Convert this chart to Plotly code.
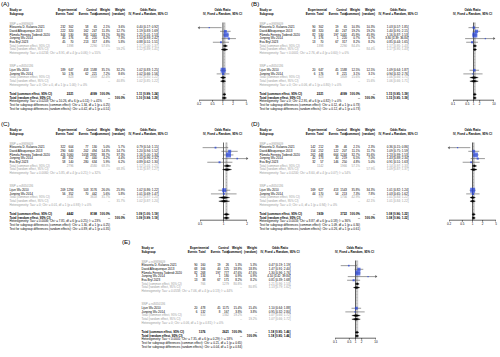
import math
import plotly.graph_objects as go

W, H = 500, 357
FONT = "Liberation Sans, Arial, Helvetica, sans-serif"
FS = 3.0
BLUE = "#1f3fe0"
GRAY_TXT = "#9a9a9a"

STUDIES_G1 = ["Elizaveta D. Kulaeva 2021", "David Albuquerque 2013",
              "Pâmela Ferreira Todendi 2020", "Junping Wu 2014", "Eva Bryl 2023"]
STUDIES_G2 = ["Lijun Wu 2010", "Junping Wu 2014"]
SNP_LABELS = ["SNP = rs9939609", "SNP = rs8050136"]

# ---------------- Panel A ----------------
A_ev_e = [232, 222, 344, 45, 45, 189, 50]
A_n_e = [302, 320, 530, 176, 70, 647, 176]
A_ev_c = [58, 162, 861, 41, 213, 458, 62]
A_n_c = [65, 247, 1441, 220, 317, 1588, 221]
A_w_com = [2.1, 11.3, 33.1, 6.2, 4.8, 35.1, 7.2]
A_w_ran = [3.6, 12.7, 30.9, 7.3, 5.8, 32.2, 8.6]
A_or = [0.40, 1.19, 1.25, 1.50, 0.88, 1.02, 1.02]
A_lo = [0.17, 0.83, 1.01, 0.93, 0.51, 0.83, 0.66]
A_hi = [0.92, 1.69, 1.53, 2.42, 1.51, 1.25, 1.56]
A_sub_n_e = [1398, 823]
A_sub_n_c = [2290, 1809]
A_sub_w_com = [57.6, 42.4]
A_sub_w_ran = [59.2, 40.8]
A_sub_com = [[1.17, 1.00, 1.37], [1.02, 0.85, 1.22]]
A_sub_ran = [[1.12, 0.89, 1.41], [1.02, 0.85, 1.22]]
A_sub_het = ["Heterogeneity: Tau² = 0.0234; Chi² = 8.91, df = 4 (p = 0.06); I² = 55%",
             "Heterogeneity: Tau² = 0; Chi² = 0, df = 1 (p = 1.00); I² = 0%"]
A_tot_n = [2221, 4099]
A_tot_com = [1.11, 0.99, 1.24]
A_tot_ran = [1.10, 0.94, 1.29]
A_het = "Heterogeneity: Tau² = 0.0203; Chi² = 10.26, df = 6 (p = 0.11); I² = 41%"
A_test = ["Test for subgroup differences (common effect): Chi² = 1.34, df = 1 (p = 0.25)",
          "Test for subgroup differences (random effects): Chi² = 0.42, df = 1 (p = 0.51)"]
A_ticks = [0.2, 0.5, 1, 2, 5]
A_xlim = [0.2, 5]

# ---------------- Panel B ----------------
B_ev_e = [90, 68, 82, 3, 13, 20, 6]
B_n_e = [302, 320, 530, 176, 70, 647, 176]
B_ev_c = [19, 40, 197, 1, 67, 45, 8]
B_n_c = [65, 247, 1441, 220, 317, 1588, 221]
B_w_com = [10.3, 19.2, 45.9, 0.7, 8.2, 12.5, 3.1]
B_w_ran = [10.3, 19.2, 45.9, 0.7, 8.2, 12.5, 3.1]
B_or = [1.03, 1.40, 1.16, 3.80, 0.85, 1.09, 0.94]
B_lo = [0.57, 0.91, 0.87, 0.39, 0.44, 0.64, 0.32]
B_hi = [1.85, 2.15, 1.53, 36.84, 1.65, 1.87, 2.76]
B_sub_n_e = [1398, 823]
B_sub_n_c = [2290, 1809]
B_sub_w_com = [84.4, 15.6]
B_sub_w_ran = [84.4, 15.6]
B_sub_com = [[1.17, 0.95, 1.43], [1.06, 0.66, 1.71]]
B_sub_ran = [[1.17, 0.95, 1.43], [1.06, 0.66, 1.71]]
B_sub_het = ["Heterogeneity: Tau² < 0.0001; Chi² = 2.76, df = 4 (p = 0.60); I² = 0%",
             "Heterogeneity: Tau² = 0; Chi² = 0.06, df = 1 (p = 0.80); I² = 0%"]
B_tot_n = [2221, 4099]
B_tot_com = [1.15, 0.95, 1.39]
B_tot_ran = [1.15, 0.95, 1.39]
B_het = "Heterogeneity: Tau² = 0; Chi² = 2.95, df = 6 (p = 0.82); I² = 0%"
B_test = ["Test for subgroup differences (common effect): Chi² = 0.12, df = 1 (p = 0.73)",
          "Test for subgroup differences (random effects): Chi² = 0.12, df = 1 (p = 0.73)"]
B_ticks = [0.1, 0.5, 1, 2, 10]
B_xlim = [0.1, 10]

# ---------------- Panel C ----------------
C_ev_e = [322, 290, 426, 48, 58, 209, 56]
C_n_e = [604, 640, 1060, 352, 140, 1294, 352]
C_ev_c = [77, 202, 1058, 42, 280, 503, 70]
C_n_c = [130, 494, 2882, 440, 634, 3176, 442]
C_w_com = [5.0, 14.3, 38.7, 4.2, 5.9, 26.0, 5.6]
C_w_ran = [5.7, 14.7, 37.3, 4.4, 6.2, 25.9, 5.8]
C_or = [0.79, 1.20, 1.16, 1.50, 0.89, 1.02, 1.01]
C_lo = [0.54, 0.94, 1.00, 0.96, 0.62, 0.86, 0.69]
C_hi = [1.15, 1.52, 1.34, 2.32, 1.30, 1.22, 1.47]
C_sub_n_e = [2796, 1646]
C_sub_n_c = [4580, 3618]
C_sub_w_com = [68.3, 31.7]
C_sub_w_ran = [68.3, 31.7]
C_sub_com = [[1.12, 1.01, 1.25], [1.02, 0.87, 1.20]]
C_sub_ran = [[1.11, 0.97, 1.27], [1.02, 0.87, 1.20]]
C_sub_het = ["Heterogeneity: Tau² = 0.0060; Chi² = 5.85, df = 4 (p = 0.21); I² = 32%",
             "Heterogeneity: Tau² = 0; Chi² = 0.01, df = 1 (p = 0.93); I² = 0%"]
C_tot_n = [4442, 8198]
C_tot_com = [1.09, 1.00, 1.19]
C_tot_ran = [1.09, 0.99, 1.19]
C_het = "Heterogeneity: Tau² = 0.0006; Chi² = 7.81, df = 6 (p = 0.25); I² = 23%"
C_test = ["Test for subgroup differences (common effect): Chi² = 1.30, df = 1 (p = 0.25)",
          "Test for subgroup differences (random effects): Chi² = 0.89, df = 1 (p = 0.35)"]
C_ticks = [0.5, 1, 2]
C_xlim = [0.5, 2]

# ---------------- Panel D ----------------
D_ev_e = [142, 154, 262, 42, 32, 169, 44]
D_n_e = [212, 252, 448, 173, 57, 627, 170]
D_ev_c = [39, 122, 664, 40, 146, 413, 54]
D_n_c = [46, 207, 1244, 219, 250, 1543, 213]
D_w_com = [2.1, 11.1, 32.7, 6.5, 4.8, 35.8, 7.3]
D_w_ran = [2.3, 11.7, 31.6, 7.0, 5.0, 34.3, 7.8]
D_or = [0.36, 1.09, 1.23, 1.43, 0.91, 1.01, 1.03]
D_lo = [0.15, 0.75, 0.99, 0.88, 0.51, 0.82, 0.65]
D_hi = [0.86, 1.59, 1.53, 2.34, 1.63, 1.24, 1.62]
D_sub_n_e = [1142, 797]
D_sub_n_c = [1966, 1756]
D_sub_w_com = [57.1, 42.9]
D_sub_w_ran = [57.9, 42.1]
D_sub_com = [[1.14, 0.97, 1.33], [1.01, 0.84, 1.22]]
D_sub_ran = [[1.09, 0.87, 1.37], [1.01, 0.84, 1.22]]
D_sub_het = ["Heterogeneity: Tau² = 0.0200; Chi² = 8.60, df = 4 (p = 0.07); I² = 54%",
             "Heterogeneity: Tau² = 0; Chi² = 0, df = 1 (p = 0.94); I² = 0%"]
D_tot_n = [1939, 3722]
D_tot_com = [1.08, 0.96, 1.22]
D_tot_ran = [1.08, 0.96, 1.22]
D_het = "Heterogeneity: Tau² = 0.0016; Chi² = 8.87, df = 6 (p = 0.18); I² = 36%"
D_test = ["Test for subgroup differences (common effect): Chi² = 1.09, df = 1 (p = 0.30)",
          "Test for subgroup differences (random effects): Chi² = 0.26, df = 1 (p = 0.61)"]
D_ticks = [0.2, 0.5, 1, 2, 5]
D_xlim = [0.2, 5]

# ---------------- Panel E ----------------
E_ev_e = [90, 68, 82, 3, 13, 20, 6]
E_n_e = [160, 166, 268, 134, 38, 478, 132]
E_ev_c = [19, 40, 197, 1, 67, 45, 8]
E_n_c = [26, 125, 777, 180, 171, 1175, 167]
E_w_com = [5.3, 18.8, 47.6, 0.9, 8.2, 15.4, 3.8]
E_w_ran = [5.3, 18.8, 47.6, 0.9, 8.2, 15.4, 3.8]
E_or = [0.47, 1.47, 1.30, 4.10, 0.81, 1.10, 0.95]
E_lo = [0.19, 0.91, 0.96, 0.42, 0.39, 0.64, 0.32]
E_hi = [1.19, 2.40, 1.76, 39.84, 1.68, 1.88, 2.80]
E_sub_n_e = [766, 610]
E_sub_n_c = [1279, 1342]
E_sub_w_com = [80.8, 19.2]
E_sub_w_ran = [80.8, 19.2]
E_sub_com = [[1.21, 0.96, 1.53], [1.07, 0.66, 1.72]]
E_sub_ran = [[1.13, 0.79, 1.62], [1.07, 0.66, 1.72]]
E_sub_het = ["Heterogeneity: Tau² = 0.0558; Chi² = 7.06, df = 4 (p = 0.13); I² = 44%",
             "Heterogeneity: Tau² = 0; Chi² = 0.06, df = 1 (p = 0.81); I² = 0%"]
E_tot_n = [1376, 2621]
E_tot_com = [1.18, 0.95, 1.46]
E_tot_ran = [1.18, 0.95, 1.46]
E_het = "Heterogeneity: Tau² < 0.0001; Chi² = 7.35, df = 6 (p = 0.29); I² = 18%"
E_test = ["Test for subgroup differences (common effect): Chi² = 0.21, df = 1 (p = 0.65)",
          "Test for subgroup differences (random effects): Chi² = 0.04, df = 1 (p = 0.84)"]
E_ticks = [0.1, 0.5, 1, 2, 10]
E_xlim = [0.1, 10]

g = globals()
PANELS = []
for key, ox, oy, dom in [("A", 0, 0, (199, 246.7)), ("B", 250, 0, (453, 494)),
                         ("C", 0, 120, (200, 247)), ("D", 250, 120, (449, 496)),
                         ("E", 132, 238, (335, 376))]:
    names = ["ev_e", "n_e", "ev_c", "n_c", "w_com", "w_ran", "or", "lo", "hi",
             "sub_n_e", "sub_n_c", "sub_w_com", "sub_w_ran", "sub_com", "sub_ran",
             "sub_het", "tot_n", "tot_com", "tot_ran", "het", "test", "ticks", "xlim"]
    p = {n: g[key + "_" + n] for n in names}
    p.update(key=key, ox=ox, oy=oy, dom=dom)
    PANELS.append(p)

# ---------------- layout helpers ----------------
texts = {"left": [], "right": [], "center": []}


def T(x, y, s, anchor="left", color="black", size=FS, bold=False):
    if bold:
        s = "<b>" + s + "</b>"
    texts[anchor].append((x, y, s, color, size))


STEP = 3.65
COL = dict(name=9.5, ev_e=65.5, n_e=73.5, ev_c=88.5, n_c=97.0, w_com=110.0,
           w_ran=125.0, eff=158.5)

fig = go.Figure()
layout_axes = {}


def fmt_eff(t):
    return "%.2f [%.2f; %.2f]" % (t[0], t[1], t[2])


def nolegend(**kw):
    return go.Scatter(hoverinfo="skip", showlegend=False, **kw)


for i, p in enumerate(PANELS, start=1):
    ox, oy = p["ox"], p["oy"]
    lab_x = ox + (1 if p["key"] != "E" else -10)
    T(lab_x, oy + 4.5, "(" + p["key"] + ")", "left", "black", 6.2)
    # header
    h1, h2 = oy + 10.5, oy + 14.0
    T(ox + COL["name"], h1, "Study or", bold=True)
    T(ox + COL["name"], h2, "Subgroup", bold=True)
    T(ox + 67.5, h1, "Experimental", "center", bold=True)
    T(ox + COL["ev_e"], h2, "Events", "right", bold=True)
    T(ox + COL["n_e"], h2, "Total", "right", bold=True)
    T(ox + 91.5, h1, "Control", "center", bold=True)
    T(ox + COL["ev_c"], h2, "Events", "right", bold=True)
    T(ox + COL["n_c"], h2, "Total", "right", bold=True)
    T(ox + COL["w_com"], h1, "Weight", "right", bold=True)
    T(ox + COL["w_com"], h2, "(common)", "right", bold=True)
    T(ox + COL["w_ran"], h1, "Weight", "right", bold=True)
    T(ox + COL["w_ran"], h2, "(random)", "right", bold=True)
    T(ox + 148, h1, "Odds Ratio", "center", bold=True)
    T(ox + 148, h2, "IV, Fixed + Random, 95% CI", "center", bold=True)
    T(ox + 222.5, h1, "Odds Ratio", "center", bold=True)
    T(ox + 222.5, h2, "IV, Fixed + Random, 95% CI", "center", bold=True)

    # rows
    snp_y = [oy + 24.0, oy + 66.6]
    groups = [list(range(0, 5)), list(range(5, 7))]
    study_rows = []
    diamonds = []  # (y, triple)
    for gi, idx in enumerate(groups):
        y = snp_y[gi]
        T(ox + COL["name"], y, SNP_LABELS[gi], color=GRAY_TXT)
        names = STUDIES_G1 if gi == 0 else STUDIES_G2
        for k, j in enumerate(idx):
            y += STEP
            study_rows.append((y, j))
            T(ox + COL["name"], y, names[k])
            T(ox + COL["ev_e"], y, str(p["ev_e"][j]), "right")
            T(ox + COL["n_e"], y, str(p["n_e"][j]), "right")
            T(ox + COL["ev_c"], y, str(p["ev_c"][j]), "right")
            T(ox + COL["n_c"], y, str(p["n_c"][j]), "right")
            T(ox + COL["w_com"], y, "%.1f%%" % p["w_com"][j], "right")
            T(ox + COL["w_ran"], y, "%.1f%%" % p["w_ran"][j], "right")
            T(ox + COL["eff"], y, fmt_eff((p["or"][j], p["lo"][j], p["hi"][j])), "right")
        y += STEP
        T(ox + COL["name"], y, "Total (common effect, 95% CI)", color=GRAY_TXT)
        T(ox + COL["n_e"], y, str(p["sub_n_e"][gi]), "right", GRAY_TXT)
        T(ox + COL["n_c"], y, str(p["sub_n_c"][gi]), "right", GRAY_TXT)
        T(ox + COL["w_com"], y, "%.1f%%" % p["sub_w_com"][gi], "right", GRAY_TXT)
        T(ox + COL["w_ran"], y, "--", "right", GRAY_TXT)
        T(ox + COL["eff"], y, fmt_eff(p["sub_com"][gi]), "right", GRAY_TXT)
        diamonds.append((y, p["sub_com"][gi]))
        y += STEP
        T(ox + COL["name"], y, "Total (random effect, 95% CI)", color=GRAY_TXT)
        T(ox + COL["w_com"], y, "--", "right", GRAY_TXT)
        T(ox + COL["w_ran"], y, "%.1f%%" % p["sub_w_ran"][gi], "right", GRAY_TXT)
        T(ox + COL["eff"], y, fmt_eff(p["sub_ran"][gi]), "right", GRAY_TXT)
        diamonds.append((y, p["sub_ran"][gi]))
        y += STEP
        T(ox + COL["name"], y, p["sub_het"][gi], color=GRAY_TXT)

    y = oy + 94.3
    T(ox + COL["name"], y, "Total (common effect, 95% CI)", bold=True)
    T(ox + COL["n_e"], y, str(p["tot_n"][0]), "right", bold=True)
    T(ox + COL["n_c"], y, str(p["tot_n"][1]), "right", bold=True)
    T(ox + COL["w_com"], y, "100.0%", "right", bold=True)
    T(ox + COL["w_ran"], y, "--", "right", bold=True)
    T(ox + COL["eff"], y, fmt_eff(p["tot_com"]), "right", bold=True)
    diamonds.append((y, p["tot_com"]))
    y += STEP
    T(ox + COL["name"], y, "Total (random effect, 95% CI)", bold=True)
    T(ox + COL["w_com"], y, "--", "right", bold=True)
    T(ox + COL["w_ran"], y, "100.0%", "right", bold=True)
    T(ox + COL["eff"], y, fmt_eff(p["tot_ran"]), "right", bold=True)
    diamonds.append((y, p["tot_ran"]))
    y += STEP
    T(ox + COL["name"], y, p["het"])
    y += STEP
    T(ox + COL["name"], y, p["test"][0])
    y += STEP
    T(ox + COL["name"], y, p["test"][1])

    # -------- forest (data axes) --------
    xa = "x%d" % i
    ya = "y%d" % i
    lo_lim, hi_lim = p["xlim"]
    axis_y = oy + 100.2
    top_y = oy + 22.5

    # reference and pooled lines
    fig.add_trace(nolegend(x=[p["tot_com"][0]] * 2, y=[top_y, axis_y], mode="lines",
                           line=dict(color="#d9d9d9", width=2.6), xaxis=xa, yaxis=ya))
    fig.add_trace(nolegend(x=[1, 1], y=[top_y, axis_y], mode="lines",
                           line=dict(color="black", width=0.6), xaxis=xa, yaxis=ya))
    fig.add_trace(nolegend(x=[p["tot_ran"][0]] * 2, y=[top_y, axis_y], mode="lines",
                           line=dict(color="#808080", width=0.5, dash="2px,1px"),
                           xaxis=xa, yaxis=ya))

    # CI lines
    cx, cy, ax_l, ay_l, ax_r, ay_r = [], [], [], [], [], []
    for (y, j) in study_rows:
        a = max(p["lo"][j], lo_lim)
        b = min(p["hi"][j], hi_lim)
        cx += [a, b, None]
        cy += [y, y, None]
        if p["lo"][j] < lo_lim:
            ax_l.append(lo_lim)
            ay_l.append(y)
        if p["hi"][j] > hi_lim:
            ax_r.append(hi_lim)
            ay_r.append(y)
    fig.add_trace(nolegend(x=cx, y=cy, mode="lines", line=dict(color="#555555", width=0.6),
                           xaxis=xa, yaxis=ya))
    if ax_l:
        fig.add_trace(nolegend(x=ax_l, y=ay_l, mode="markers", cliponaxis=False,
                               marker=dict(symbol="triangle-left", size=2.6, color="#555555"),
                               xaxis=xa, yaxis=ya))
    if ax_r:
        fig.add_trace(nolegend(x=ax_r, y=ay_r, mode="markers", cliponaxis=False,
                               marker=dict(symbol="triangle-right", size=2.6, color="#555555"),
                               xaxis=xa, yaxis=ya))
    # squares
    wmax = max(p["w_com"])
    sx = [p["or"][j] for (_, j) in study_rows]
    sy = [y for (y, _) in study_rows]
    ss = [max(1.3, 5.0 * math.sqrt(p["w_com"][j] / wmax)) for (_, j) in study_rows]
    fig.add_trace(nolegend(x=sx, y=sy, mode="markers",
                           marker=dict(symbol="square", size=ss, color=BLUE, line=dict(width=0)),
                           xaxis=xa, yaxis=ya))
    # diamonds (one closed polygon each)
    for (y, t) in diamonds:
        fig.add_trace(nolegend(x=[t[1], t[0], t[2], t[0], t[1]],
                               y=[y, y - 1.1, y, y + 1.1, y],
                               mode="lines", fill="toself", fillcolor="black",
                               line=dict(color="black", width=0.3), xaxis=xa, yaxis=ya))

    # axis line, ticks and tick labels drawn on the panel's log scale
    fig.add_trace(nolegend(x=[lo_lim, hi_lim], y=[axis_y, axis_y], mode="lines",
                           line=dict(color="black", width=0.6), xaxis=xa, yaxis=ya,
                           cliponaxis=False))
    tx, tyy = [], []
    for v in p["ticks"]:
        tx += [v, v, None]
        tyy += [axis_y, axis_y + 1.5, None]
    fig.add_trace(nolegend(x=tx, y=tyy, mode="lines", line=dict(color="black", width=0.6),
                           xaxis=xa, yaxis=ya, cliponaxis=False))
    fig.add_trace(nolegend(x=p["ticks"], y=[axis_y + 3.8] * len(p["ticks"]), mode="text",
                           text=[("%g" % v) for v in p["ticks"]], textposition="middle center",
                           textfont=dict(family=FONT, size=FS, color="black"),
                           xaxis=xa, yaxis=ya, cliponaxis=False))

    layout_axes["xaxis%d" % i] = dict(
        type="log", range=[math.log10(lo_lim), math.log10(hi_lim)],
        domain=[p["dom"][0] / W, p["dom"][1] / W], anchor=ya, visible=False,
        automargin=False, showgrid=False, zeroline=False)
    layout_axes["yaxis%d" % i] = dict(domain=[0, 1], range=[H, 0], visible=False,
                                      anchor=xa, showgrid=False, zeroline=False,
                                      automargin=False)

# text layer (page pixel coordinates)
ti = len(PANELS) + 1
pos_map = {"left": "middle right", "right": "middle left", "center": "middle center"}
for anchor, items in texts.items():
    if not items:
        continue
    fig.add_trace(nolegend(
        x=[it[0] for it in items], y=[it[1] for it in items],
        text=[it[2] for it in items], mode="text", textposition=pos_map[anchor],
        textfont=dict(family=FONT, color=[it[3] for it in items], size=[it[4] for it in items]),
        xaxis="x%d" % ti, yaxis="y%d" % ti, cliponaxis=False))
layout_axes["xaxis%d" % ti] = dict(domain=[0, 1], range=[0, W], visible=False,
                                   anchor="y%d" % ti, automargin=False)
layout_axes["yaxis%d" % ti] = dict(domain=[0, 1], range=[H, 0], visible=False,
                                   anchor="x%d" % ti, automargin=False)

fig.update_layout(width=W, height=H, margin=dict(l=0, r=0, t=0, b=0, pad=0),
                  paper_bgcolor="white", plot_bgcolor="rgba(0,0,0,0)",
                  font=dict(family=FONT, size=FS, color="black"), **layout_axes)
fig.write_html("out.html", config={"displayModeBar": False},
               post_script="document.body.style.margin='0';document.body.style.padding='0';")
